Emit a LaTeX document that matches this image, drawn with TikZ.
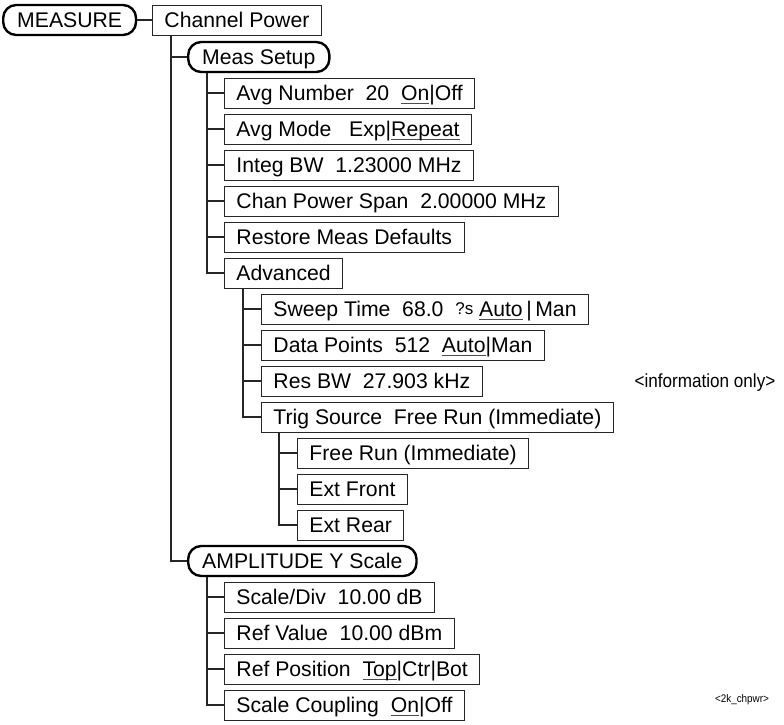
\documentclass[tikz,border=0pt]{standalone}
\usepackage{fontspec}
\setmainfont{Liberation Sans}
\tikzset{
  box/.style={draw=black!85, line width=0.9pt, anchor=west, fill=white,
    minimum height=30pt, inner xsep=12pt, inner ysep=0pt,
    text height=15pt, text depth=0pt,
    font=\fontsize{21.2}{24}\selectfont},
  pill/.style={box, line width=2.4pt, draw=black, rounded corners=13pt,
    inner xsep=14pt},
  conn/.style={draw=black!85, line width=1.1pt},
  note/.style={font=\fontsize{19}{22}\selectfont, xscale=0.9, inner sep=0pt}
}
\newcommand\uln[1]{\setbox0\hbox{#1}\rlap{\color{black!70}\rule[-3.8pt]{\wd0}{0.9pt}}\box0}
\begin{document}
\begin{tikzpicture}[x=1pt,y=-1pt]
\useasboundingbox (0,0) rectangle (784,724);

\node[pill] (measure) at (2,20) {MEASURE};
\node[box]  (chan)    at (152,20) {Channel Power};
\node[pill] (meas)    at (187,57) {Meas Setup};
\node[box]  (avgn)    at (224,93) {Avg Number~~20~~\uln{On}|Off};
\node[box]  (avgm)    at (224,129) {Avg Mode~~~Exp|\uln{Repeat}};
\node[box]  (integ)   at (224,165) {Integ BW~~1.23000 MHz};
\node[box]  (span)    at (224,201) {Chan Power Span~~2.00000 MHz};
\node[box]  (restore) at (224,237) {Restore Meas Defaults};
\node[box]  (adv)     at (224,273) {Advanced};
\node[box]  (sweep)   at (261,309) {Sweep Time~~68.0~~\raisebox{2pt}{\fontsize{17}{20}\selectfont ?s} \uln{Auto}\,|\,Man};
\node[box]  (points)  at (261,345) {Data Points~~512~~\uln{Auto}|Man};
\node[box]  (resbw)   at (261,381) {Res BW~~27.903 kHz};
\node[box]  (trig)    at (261,417) {Trig Source~~Free Run (Immediate)};
\node[box]  (free)    at (297,453) {Free Run (Immediate)};
\node[box]  (front)   at (297,489) {Ext Front};
\node[box]  (rear)    at (297,525) {Ext Rear};
\node[pill] (amp)     at (187,561) {AMPLITUDE Y Scale};
\node[box]  (scdiv)   at (224,597) {Scale/Div~~10.00 dB};
\node[box]  (refval)  at (224,633) {Ref Value~~10.00 dBm};
\node[box]  (refpos)  at (224,669) {Ref Position~~\uln{Top}|Ctr|Bot};
\node[box]  (coup)    at (224,705) {Scale Coupling~~\uln{On}|Off};

\node[note] (info) at (705,383) {<information only>};
\node[font=\fontsize{11}{13}\selectfont, xscale=0.9, inner sep=0pt] (tag) at (742,700) {<2k\_chpwr>};

% connectors
\draw[conn] (measure.east) -- (chan.west);
\foreach \c in {meas,amp}
  \draw[conn] ([xshift=19pt]chan.south west) |- (\c.west);
\foreach \c in {avgn,avgm,integ,span,restore,adv}
  \draw[conn] ([xshift=20pt]meas.south west) |- (\c.west);
\foreach \c in {sweep,points,resbw,trig}
  \draw[conn] ([xshift=19pt]adv.south west) |- (\c.west);
\foreach \c in {free,front,rear}
  \draw[conn] ([xshift=18pt]trig.south west) |- (\c.west);
\foreach \c in {scdiv,refval,refpos,coup}
  \draw[conn] ([xshift=20pt]amp.south west) |- (\c.west);
\end{tikzpicture}
\end{document}
